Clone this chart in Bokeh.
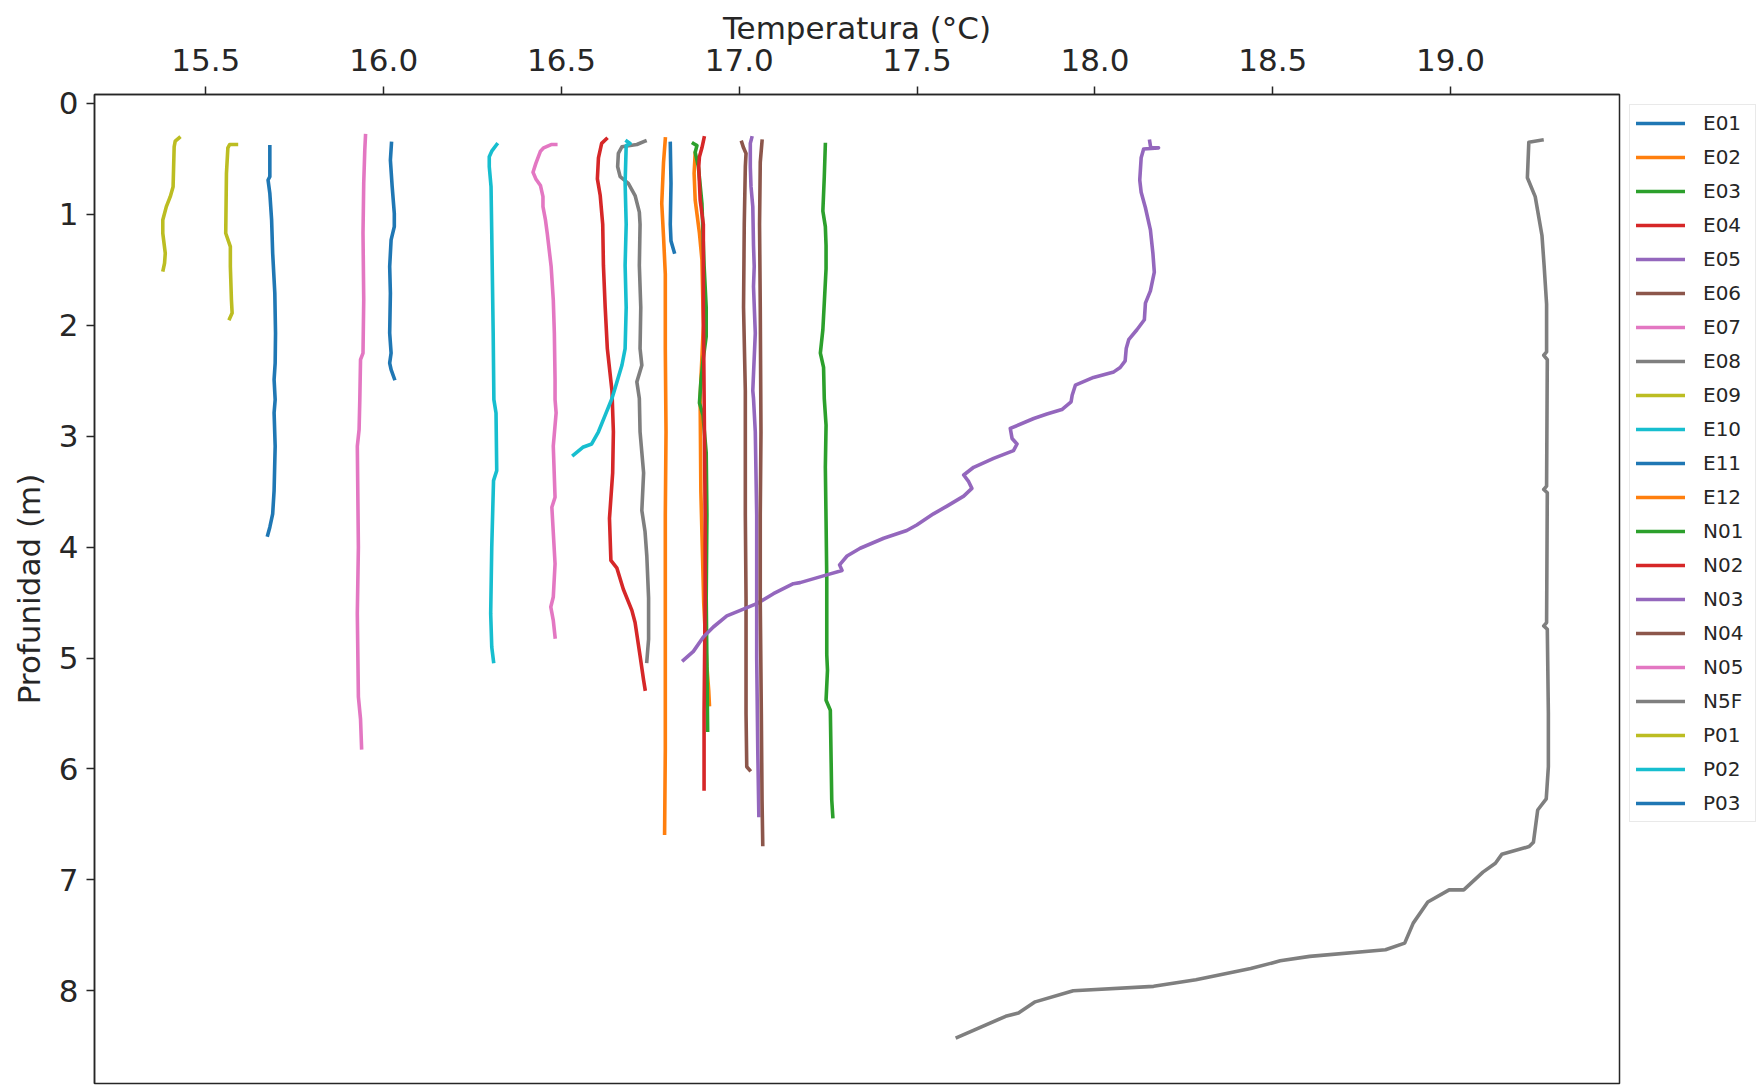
from bokeh.plotting import figure
from bokeh.models import Range1d, Legend, LegendItem, FixedTicker, NumeralTickFormatter
from bokeh.embed import file_html
from bokeh.resources import INLINE

# Temperature (degC) / depth (m) profiles per station
E01_T = [15.680, 15.680, 15.675, 15.680, 15.685, 15.688, 15.694, 15.696, 15.695, 15.692, 15.695, 15.692, 15.695, 15.692, 15.688, 15.680, 15.674]
E01_Z = [0.39, 0.66, 0.69, 0.81, 1.05, 1.35, 1.71, 2.07, 2.34, 2.49, 2.67, 2.79, 3.09, 3.49, 3.70, 3.82, 3.89]

E02_T = [16.792, 16.787, 16.782, 16.787, 16.792, 16.792, 16.794, 16.792, 16.792, 16.792, 16.790]
E02_Z = [0.32, 0.53, 0.90, 1.20, 1.54, 2.21, 2.96, 3.71, 4.46, 5.83, 6.58]

E03_T = [17.242, 17.239, 17.235, 17.242, 17.244, 17.244, 17.239, 17.235, 17.228, 17.237, 17.239, 17.244, 17.242, 17.244, 17.246, 17.246, 17.248, 17.244, 17.256, 17.260, 17.263]
E03_Z = [0.37, 0.66, 0.97, 1.11, 1.28, 1.49, 1.80, 2.04, 2.25, 2.38, 2.66, 2.90, 3.28, 3.76, 4.28, 4.97, 5.11, 5.38, 5.47, 6.28, 6.43]

E04_T = [16.626, 16.613, 16.604, 16.601, 16.609, 16.616, 16.618, 16.623, 16.629, 16.642, 16.646, 16.644, 16.635, 16.639, 16.656, 16.674, 16.698, 16.707, 16.721, 16.731, 16.735]
E04_Z = [0.32, 0.36, 0.49, 0.68, 0.83, 1.09, 1.46, 1.84, 2.21, 2.59, 2.96, 3.33, 3.74, 4.12, 4.19, 4.38, 4.57, 4.68, 4.98, 5.20, 5.28]

E05_T = [17.035, 17.031, 17.031, 17.033, 17.038, 17.040, 17.042, 17.040, 17.045, 17.038, 17.040, 17.045, 17.049, 17.049, 17.052, 17.055]
E05_Z = [0.31, 0.36, 0.57, 0.75, 0.93, 1.28, 1.47, 1.65, 2.07, 2.59, 2.66, 2.96, 3.71, 5.00, 5.83, 6.42]

E06_T = [17.007, 17.012, 17.019, 17.017, 17.014, 17.012, 17.017, 17.017, 17.019, 17.019, 17.021, 17.029]
E06_Z = [0.35, 0.40, 0.45, 0.57, 1.09, 1.84, 2.59, 3.71, 4.46, 5.50, 5.98, 6.01]

E07_T = [15.949, 15.947, 15.944, 15.942, 15.944, 15.942, 15.935, 15.933, 15.931, 15.926, 15.929, 15.926, 15.929, 15.935, 15.938]
E07_Z = [0.29, 0.42, 0.72, 1.17, 1.77, 2.25, 2.31, 2.67, 2.94, 3.09, 4.00, 4.60, 5.35, 5.55, 5.81]

E08_T = [16.735, 16.712, 16.670, 16.660, 16.658, 16.665, 16.688, 16.707, 16.719, 16.721, 16.719, 16.723, 16.721, 16.726, 16.712, 16.719, 16.721, 16.731, 16.726, 16.735, 16.740, 16.745, 16.745, 16.740]
E08_Z = [0.34, 0.37, 0.39, 0.45, 0.57, 0.66, 0.72, 0.83, 0.98, 1.09, 1.46, 1.84, 2.21, 2.36, 2.51, 2.66, 2.96, 3.33, 3.67, 3.86, 4.08, 4.46, 4.83, 5.03]

E09_T = [15.425, 15.414, 15.411, 15.408, 15.400, 15.389, 15.379, 15.379, 15.386, 15.384, 15.380]
E09_Z = [0.31, 0.34, 0.39, 0.75, 0.84, 0.93, 1.05, 1.17, 1.35, 1.44, 1.50]

E10_T = [16.318, 16.304, 16.297, 16.297, 16.302, 16.304, 16.308, 16.310, 16.316, 16.318, 16.309, 16.304, 16.301, 16.304, 16.309]
E10_Z = [0.37, 0.43, 0.48, 0.57, 0.75, 1.17, 2.07, 2.67, 2.79, 3.31, 3.40, 4.00, 4.60, 4.90, 5.03]

E11_T = [16.806, 16.808, 16.806, 16.808, 16.817]
E11_Z = [0.36, 0.72, 1.09, 1.24, 1.34]

E12_T = [16.876, 16.873, 16.876, 16.888, 16.895, 16.899, 16.892, 16.890, 16.892, 16.900, 16.909, 16.914, 16.916]
E12_Z = [0.45, 0.63, 0.87, 1.17, 1.41, 2.00, 2.50, 2.67, 3.50, 4.50, 5.08, 5.29, 5.42]

N01_T = [16.871, 16.881, 16.876, 16.885, 16.895, 16.901, 16.907, 16.907, 16.899, 16.892, 16.888, 16.898, 16.907, 16.909, 16.907, 16.911]
N01_Z = [0.36, 0.38, 0.44, 0.57, 0.90, 1.46, 1.84, 2.10, 2.29, 2.51, 2.70, 2.81, 3.15, 3.71, 4.46, 5.65]

N02_T = [16.901, 16.895, 16.888, 16.886, 16.888, 16.890, 16.899, 16.899, 16.901, 16.904, 16.904, 16.901, 16.901]
N02_Z = [0.31, 0.40, 0.48, 0.57, 0.72, 0.87, 1.09, 1.84, 2.59, 3.71, 4.46, 5.50, 6.18]

N03_T = [18.154, 18.157, 18.179, 18.137, 18.130, 18.126, 18.130, 18.142, 18.156, 18.163,
         18.167, 18.156, 18.142, 18.139, 18.118, 18.095, 18.088, 18.085, 18.071, 18.053,
         17.996, 17.945, 17.936, 17.933, 17.907, 17.865, 17.828, 17.762, 17.767, 17.781,
         17.771, 17.715, 17.659, 17.631, 17.645, 17.654, 17.631, 17.584, 17.546, 17.499,
         17.471, 17.406, 17.340, 17.303, 17.282, 17.289, 17.246, 17.171, 17.152, 17.096,
         17.049, 17.003, 16.965, 16.927, 16.899, 16.871, 16.843]
N03_Z = [0.34, 0.40, 0.40, 0.41, 0.49, 0.69, 0.80, 0.94, 1.14, 1.35,
         1.52, 1.69, 1.80, 1.95, 2.04, 2.13, 2.21, 2.32, 2.38, 2.42,
         2.47, 2.54, 2.63, 2.69, 2.76, 2.80, 2.84, 2.93, 3.02, 3.07,
         3.13, 3.20, 3.28, 3.35, 3.41, 3.47, 3.54, 3.63, 3.70, 3.80,
         3.85, 3.92, 4.01, 4.08, 4.16, 4.21, 4.25, 4.32, 4.33, 4.42,
         4.51, 4.57, 4.62, 4.72, 4.81, 4.94, 5.02]

N04_T = [17.064, 17.059, 17.057, 17.059, 17.061, 17.059, 17.059, 17.062, 17.064, 17.066]
N04_Z = [0.34, 0.53, 1.09, 1.84, 2.96, 3.71, 4.50, 5.50, 6.28, 6.68]

N05_T = [16.484, 16.471, 16.450, 16.441, 16.428, 16.420, 16.428, 16.441, 16.448, 16.448,
         16.455, 16.460, 16.471, 16.477, 16.480, 16.482, 16.482, 16.485, 16.477, 16.482,
         16.473, 16.482, 16.477, 16.470, 16.477, 16.482]
N05_Z = [0.37, 0.37, 0.40, 0.43, 0.54, 0.62, 0.68, 0.74, 0.84, 0.93,
         1.05, 1.17, 1.47, 1.77, 2.07, 2.49, 2.67, 2.79, 3.09, 3.55,
         3.64, 4.15, 4.45, 4.54, 4.66, 4.81]

N5F_T = [19.257, 19.220, 19.216, 19.238, 19.257, 19.263, 19.270, 19.270, 19.262, 19.272,
         19.270, 19.262, 19.272, 19.270, 19.262, 19.272, 19.275, 19.275, 19.269, 19.245,
         19.233, 19.221, 19.144, 19.126, 19.091, 19.037, 18.996, 18.936, 18.895, 18.871,
         18.817, 18.604, 18.521, 18.438, 18.284, 18.165, 17.939, 17.832, 17.785, 17.749,
         17.613]
N5F_Z = [0.33, 0.35, 0.67, 0.84, 1.19, 1.46, 1.81, 2.24, 2.27, 2.31,
         3.45, 3.48, 3.51, 4.68, 4.71, 4.74, 5.50, 5.98, 6.27, 6.37,
         6.66, 6.70, 6.77, 6.85, 6.93, 7.09, 7.09, 7.20, 7.39, 7.57,
         7.63, 7.69, 7.73, 7.80, 7.90, 7.96, 8.00, 8.10, 8.20, 8.23,
         8.42]

P01_T = [15.586, 15.567, 15.562, 15.558, 15.556, 15.569, 15.569, 15.572, 15.574, 15.567]
P01_Z = [0.37, 0.37, 0.40, 0.63, 1.17, 1.29, 1.47, 1.77, 1.89, 1.94]

P02_T = [16.684, 16.693, 16.682, 16.679, 16.682, 16.679, 16.682, 16.679, 16.670, 16.656, 16.642, 16.623, 16.604, 16.585, 16.560, 16.534]
P02_Z = [0.34, 0.36, 0.38, 0.72, 1.09, 1.46, 1.84, 2.21, 2.36, 2.51, 2.66, 2.81, 2.96, 3.07, 3.10, 3.17]

P03_T = [16.022, 16.019, 16.024, 16.030, 16.030, 16.021, 16.017, 16.019, 16.017, 16.021, 16.017, 16.021, 16.030]
P03_Z = [0.36, 0.51, 0.75, 0.99, 1.11, 1.23, 1.47, 1.71, 2.07, 2.25, 2.34, 2.40, 2.48]

STATIONS = [
    ("E01", E01_T, E01_Z), ("E02", E02_T, E02_Z), ("E03", E03_T, E03_Z),
    ("E04", E04_T, E04_Z), ("E05", E05_T, E05_Z), ("E06", E06_T, E06_Z),
    ("E07", E07_T, E07_Z), ("E08", E08_T, E08_Z), ("E09", E09_T, E09_Z),
    ("E10", E10_T, E10_Z), ("E11", E11_T, E11_Z), ("E12", E12_T, E12_Z),
    ("N01", N01_T, N01_Z), ("N02", N02_T, N02_Z), ("N03", N03_T, N03_Z),
    ("N04", N04_T, N04_Z), ("N05", N05_T, N05_Z), ("N5F", N5F_T, N5F_Z),
    ("P01", P01_T, P01_Z), ("P02", P02_T, P02_Z), ("P03", P03_T, P03_Z),
]

X_TICKS = [15.5, 16.0, 16.5, 17.0, 17.5, 18.0, 18.5, 19.0]
Y_TICKS = [0, 1, 2, 3, 4, 5, 6, 7, 8]

PALETTE = ["#1f77b4", "#ff7f0e", "#2ca02c", "#d62728", "#9467bd",
           "#8c564b", "#e377c2", "#7f7f7f", "#bcbd22", "#17becf"]

FONT = "DejaVu Sans"

p = figure(
    frame_width=1525, frame_height=989,
    min_border_left=94, min_border_top=94, min_border_right=0, min_border_bottom=5,
    x_range=Range1d(15.187, 19.475), y_range=Range1d(8.836, -0.081),
    x_axis_location="above",
    output_backend="svg", toolbar_location=None,
)
p.background_fill_color = "white"
p.border_fill_color = "white"
p.outline_line_color = "#262626"
p.outline_line_width = 1.5
p.xgrid.visible = False
p.ygrid.visible = False

items = []
for i, (name, temps, depths) in enumerate(STATIONS):
    r = p.line(temps, depths, line_color=PALETTE[i % 10], line_width=3.6,
               line_join="round", line_cap="square")
    items.append(LegendItem(label=name, renderers=[r]))

for ax in (p.xaxis[0], p.yaxis[0]):
    ax.axis_line_color = "#262626"
    ax.axis_line_width = 1.5
    ax.major_tick_line_color = "#262626"
    ax.major_tick_line_width = 1.5
    ax.major_tick_in = 0
    ax.major_tick_out = 8
    ax.minor_tick_line_color = None
    ax.major_label_text_font = FONT
    ax.major_label_text_font_size = "31px"
    ax.major_label_text_color = "#262626"
    ax.axis_label_text_font = FONT
    ax.axis_label_text_font_size = "31px"
    ax.axis_label_text_font_style = "normal"
    ax.axis_label_text_color = "#262626"

p.xaxis.ticker = FixedTicker(ticks=X_TICKS)
p.xaxis.formatter = NumeralTickFormatter(format="0.0")
p.xaxis.axis_label = "Temperatura (°C)"
p.xaxis.major_label_standoff = 16
p.xaxis.axis_label_standoff = 0

p.yaxis.ticker = FixedTicker(ticks=Y_TICKS)
p.yaxis.axis_label = "Profunidad (m)"
p.yaxis.major_label_standoff = 8
p.yaxis.axis_label_standoff = 9

legend = Legend(
    items=items, location="top_left",
    label_text_font=FONT, label_text_font_size="20px", label_text_color="#262626",
    glyph_width=49, glyph_height=24, label_height=24, label_width=46, label_standoff=18,
    spacing=10, padding=6, margin=10,
    border_line_color="#d4d4d4", border_line_width=1.5,
    background_fill_color="white", background_fill_alpha=1.0,
)
p.add_layout(legend, "right")

open("out.html", "w").write(file_html(p, INLINE))
